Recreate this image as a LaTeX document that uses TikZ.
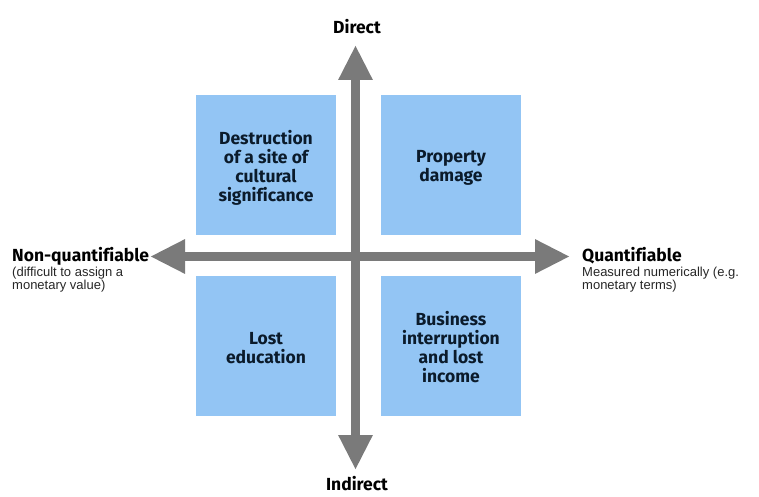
\documentclass[tikz,border=0pt]{standalone}
\usepackage{fontspec}
\setmainfont{Fira Sans}[Ligatures=NoCommon]
\newfontfamily\subfont{Liberation Sans}
\usetikzlibrary{arrows.meta}
\definecolor{boxblue}{HTML}{93C5F4}
\definecolor{axisgray}{HTML}{7A7A7A}
\definecolor{boxtext}{HTML}{0B1B2B}
\tikzset{
  x=1pt, y=-1pt,
  quad/.style={fill=boxblue, minimum width=140pt, minimum height=140pt, inner sep=0pt},
  quadtext/.style={align=center, text=boxtext, inner sep=0pt, font=\fontsize{17.5}{19}\selectfont\bfseries},
  axisarrow/.style={draw=axisgray, line width=9pt,
    {Triangle[length=35pt,width=32pt]}-{Triangle[length=35pt,width=32pt]}},
  axislabel/.style={font=\fontsize{17.5}{19}\selectfont\bfseries, inner sep=0pt},
  sublabel/.style={font=\subfont\fontsize{13}{13}\selectfont, inner sep=0pt, align=left, text=black!85}
}
\begin{document}
\begin{tikzpicture}
\useasboundingbox (0,0) rectangle (759,497);
\node[quad] (tl) at (266,165) {};
\node[quad] (tr) at (451,165) {};
\node[quad] (bl) at (266,346) {};
\node[quad] (br) at (451,346) {};
\node[quadtext] (tlt) at ([yshift=-2.5pt]tl.center) {Destruction\\of a site of\\cultural\\significance};
\node[quadtext] (trt) at ([yshift=-2.5pt]tr.center) {Property\\damage};
\node[quadtext] (blt) at ([yshift=-2pt]bl.center) {Lost\\education};
\node[quadtext] (brt) at ([yshift=-1.5pt]br.center) {Business\\interruption\\and lost\\income};
\coordinate (top) at (355.5,45);
\coordinate (bottom) at (355.5,470);
\coordinate (left) at (150,256.5);
\coordinate (right) at (570,256.5);
\draw[axisarrow] (bottom) -- (top);
\draw[axisarrow] (left) -- (right);
\node[axislabel] (direct) at (357,27) {Direct};
\node[axislabel] (indirect) at (357,484) {Indirect};
\node[axislabel, anchor=west] (nq) at (12,256) {Non-quantifiable};
\node[sublabel, anchor=north west] (nqs) at (12,266.5) {(difficult to assign a\\monetary value)};
\node[axislabel, anchor=west] (q) at (582,256) {Quantifiable};
\node[sublabel, anchor=north west] (qs) at (582,266.5) {Measured numerically (e.g.\\monetary terms)};
\end{tikzpicture}
\end{document}
